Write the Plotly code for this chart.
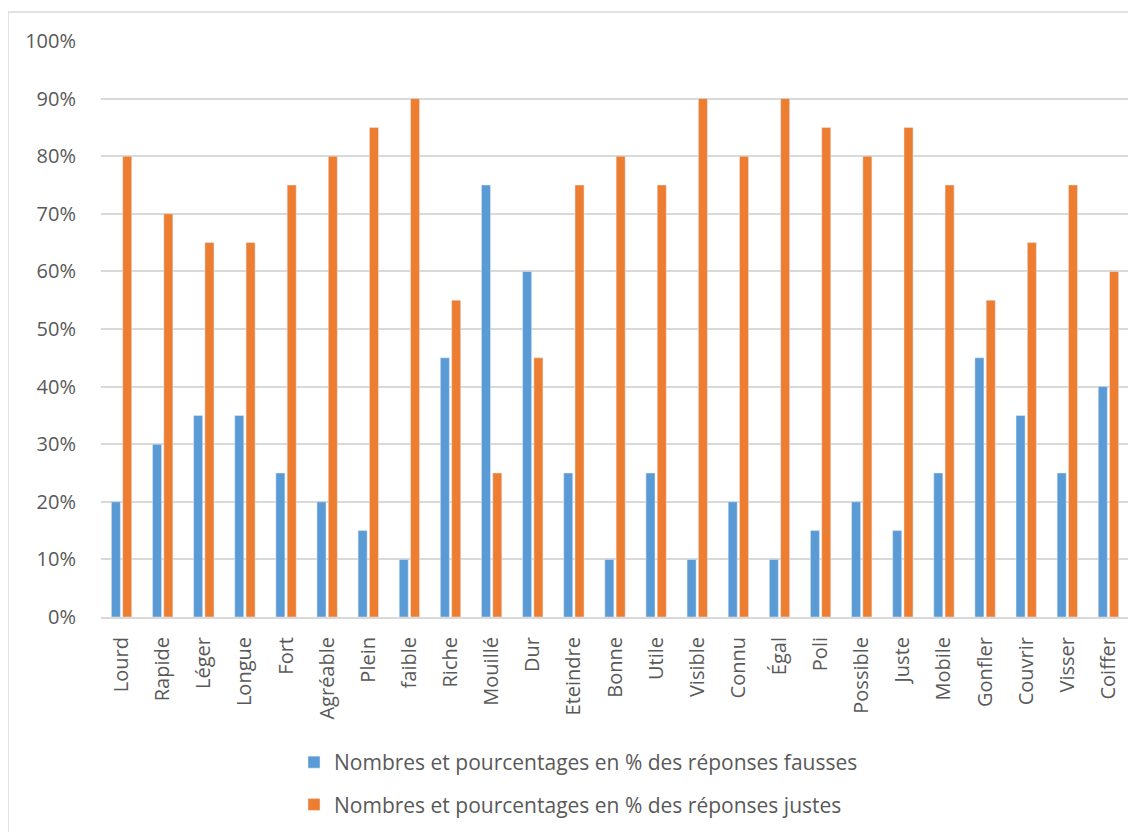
import plotly.graph_objects as go

categories = ["Lourd", "Rapide", "Léger", "Longue", "Fort", "Agréable", "Plein", "faible",
              "Riche", "Mouillé", "Dur", "Eteindre", "Bonne", "Utile", "Visible", "Connu",
              "Égal", "Poli", "Possible", "Juste", "Mobile", "Gonfler", "Couvrir", "Visser", "Coiffer"]
fausses = [20, 30, 35, 35, 25, 20, 15, 10, 45, 75, 60, 25, 10, 25, 10, 20, 10, 15, 20, 15, 25, 45, 35, 25, 40]
justes = [80, 70, 65, 65, 75, 80, 85, 90, 55, 25, 45, 75, 80, 75, 90, 80, 90, 85, 80, 85, 75, 55, 65, 75, 60]
name_fausses = "Nombres et pourcentages en % des réponses fausses"
name_justes = "Nombres et pourcentages en % des réponses justes"
tick_vals = [0, 10, 20, 30, 40, 50, 60, 70, 80, 90, 100]
tick_text = [f"{v}%" for v in tick_vals]

FONT = "Open Sans, Liberation Sans, sans-serif"
GRAY = "#595959"

fig = go.Figure()
fig.add_trace(go.Bar(x=categories, y=fausses, name=name_fausses, marker_color="#5B9BD5", legendgroup="f"))
fig.add_trace(go.Bar(x=categories, y=justes, name=name_justes, marker_color="#ED7D31", legendgroup="j"))

OFF = 8  # body margin of the page
W, H = 1136 - OFF, 832 - OFF
L, R, T, B = 101 - OFF, 15 - OFF, 41 - OFF, 832 - 617
pw, ph = W - L - R, H - T - B

def px_x(x):
    return (x - OFF - L) / pw

def px_y(y):
    return (H - B - (y - OFF)) / ph

fig.update_layout(
    width=W, height=H,
    margin=dict(l=L, r=R, t=T, b=B, pad=0),
    paper_bgcolor="white", plot_bgcolor="white",
    barmode="group", bargap=0.45, bargroupgap=0.2,
    font=dict(family=FONT, color=GRAY, size=20),
    showlegend=True,
    legend=dict(orientation="v", x=px_x(294), xanchor="left",
                y=px_y(742), yanchor="top",
                font=dict(size=21, color=GRAY), tracegroupgap=12,
                itemwidth=30, bgcolor="rgba(0,0,0,0)"),
    shapes=[dict(type="rect", xref="paper", yref="paper",
                 x0=px_x(8), x1=px_x(1145),
                 y0=px_y(845), y1=px_y(12),
                 line=dict(color="#D9D9D9", width=1.5), fillcolor="rgba(0,0,0,0)", layer="below")],
)
fig.update_xaxes(tickangle=-90, showgrid=False, showline=True, linecolor="#D9D9D9", linewidth=2,
                 ticks="outside", ticklen=10, tickcolor="rgba(0,0,0,0)",
                 tickfont=dict(size=20, color=GRAY), fixedrange=True)
fig.update_yaxes(range=[0, 100], tickvals=tick_vals, ticktext=tick_text,
                 showgrid=True, gridcolor="#D9D9D9", gridwidth=1.5, zeroline=False,
                 showline=False, ticks="outside", ticklen=20, tickcolor="rgba(0,0,0,0)",
                 tickfont=dict(size=20, color=GRAY), fixedrange=True)

fig.write_html("out.html")
